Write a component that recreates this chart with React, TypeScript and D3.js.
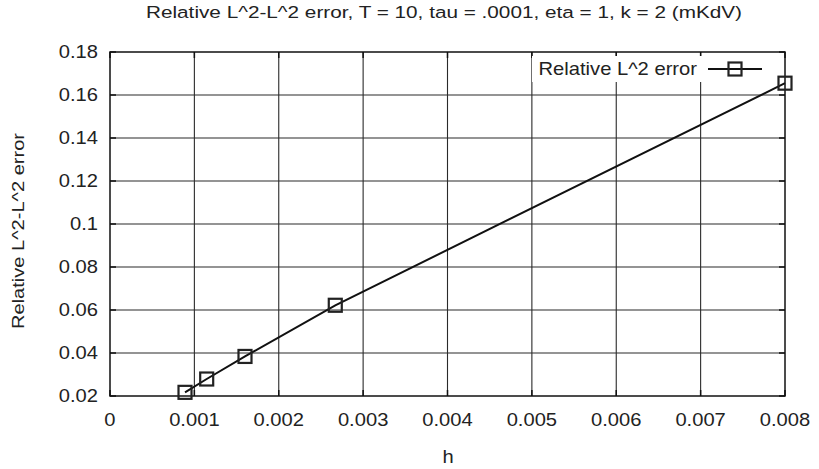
import React from "react";
import * as d3 from "d3";

// Mesh size h and relative L^2 error
const hValues = [0.000889, 0.001146, 0.0016, 0.00267, 0.008];
const errValues = [0.0217, 0.0279, 0.0384, 0.0622, 0.1655];
const xTicks = [0, 0.001, 0.002, 0.003, 0.004, 0.005, 0.006, 0.007, 0.008];
const yTicks = [0.02, 0.04, 0.06, 0.08, 0.1, 0.12, 0.14, 0.16, 0.18];

const W = 819;
const H = 469;
const M = { left: 110, right: 34, top: 52, bottom: 73 };
const FONT = "'Liberation Sans', Arial, Helvetica, sans-serif";

export default function App() {
  const x = d3.scaleLinear().domain([0, 0.008]).range([M.left, W - M.right]);
  const y = d3.scaleLinear().domain([0.02, 0.18]).range([H - M.bottom, M.top]);
  const pts = hValues.map((h, i) => [x(h), y(errValues[i])] as [number, number]);
  const line = d3.line()(pts) || "";
  const x0 = M.left, x1 = W - M.right, y0 = H - M.bottom, y1 = M.top;
  const sq = 13;
  const stretch = (cx: number, s = 1.12) => `translate(${cx},0) scale(${s},1) translate(${-cx},0)`;

  const legX = 735, legY = 69;
  return (
    <svg width={W} height={H} style={{ display: "block", position: "absolute", left: 0, top: 0 }}>
      <rect width={W} height={H} fill="#fff" />
      {/* grid */}
      {xTicks.slice(1, -1).map((t) => (
        <line key={"gx" + t} x1={x(t)} x2={x(t)} y1={y0} y2={y1} stroke="#2a2a2a" strokeWidth={1.1} />
      ))}
      {yTicks.slice(1, -1).map((t) => (
        <line key={"gy" + t} x1={x0} x2={x1} y1={y(t)} y2={y(t)} stroke="#2a2a2a" strokeWidth={1.1} />
      ))}
      {/* inward ticks */}
      {xTicks.map((t) => (
        <g key={"tx" + t}>
          <line x1={x(t)} x2={x(t)} y1={y0} y2={y0 - 6} stroke="#111" strokeWidth={1.5} />
          <line x1={x(t)} x2={x(t)} y1={y1} y2={y1 + 6} stroke="#111" strokeWidth={1.5} />
        </g>
      ))}
      {yTicks.map((t) => (
        <g key={"ty" + t}>
          <line x1={x0} x2={x0 + 6} y1={y(t)} y2={y(t)} stroke="#111" strokeWidth={1.5} />
          <line x1={x1} x2={x1 - 6} y1={y(t)} y2={y(t)} stroke="#111" strokeWidth={1.5} />
        </g>
      ))}
      {/* legend background */}
      <rect x={532} y={56} width={240} height={26} fill="#fff" />
      <rect x={x0} y={y1} width={x1 - x0} height={y0 - y1} fill="none" stroke="#111" strokeWidth={1.5} />
      {/* tick labels */}
      {xTicks.map((t) => (
        <text key={"lx" + t} x={x(t)} y={y0 + 30} textAnchor="middle" fontFamily={FONT} fontSize={18} fill="#222" transform={stretch(x(t))}>
          {t === 0 ? "0" : d3.format(".3f")(t)}
        </text>
      ))}
      {yTicks.map((t) => (
        <text key={"ly" + t} x={x0 - 12} y={y(t) + 6.5} textAnchor="end" fontFamily={FONT} fontSize={18} fill="#222" transform={stretch(x0 - 12)}>
          {d3.format(".2~f")(t)}
        </text>
      ))}
      {/* data */}
      <path d={line} fill="none" stroke="#111" strokeWidth={2} />
      {pts.map(([px, py], i) => (
        <rect key={"p" + i} x={px - sq / 2} y={py - sq / 2} width={sq} height={sq} fill="none" stroke="#222" strokeWidth={2.2} />
      ))}
      {/* legend */}
      <text x={697} y={legY + 6} textAnchor="end" fontFamily={FONT} fontSize={18} fill="#222" transform={stretch(697)}>
        Relative L^2 error
      </text>
      <line x1={708} x2={762} y1={legY} y2={legY} stroke="#111" strokeWidth={2} />
      <rect x={legX - sq / 2} y={legY - sq / 2} width={sq} height={sq} fill="none" stroke="#222" strokeWidth={2.2} />
      {/* titles */}
      <text x={444} y={18.5} textAnchor="middle" fontFamily={FONT} fontSize={17} fill="#222" transform={stretch(444, 1.22)}>
        Relative L^2-L^2 error, T = 10, tau = .0001, eta = 1, k = 2 (mKdV)
      </text>
      <text x={448} y={463} textAnchor="middle" fontFamily={FONT} fontSize={18} fill="#222" transform={stretch(448)}>
        h
      </text>
      <text transform={`translate(23.5,231) rotate(-90) scale(1.18,1)`} textAnchor="middle" fontFamily={FONT} fontSize={17} fill="#222">
        Relative L^2-L^2 error
      </text>
    </svg>
  );
}
